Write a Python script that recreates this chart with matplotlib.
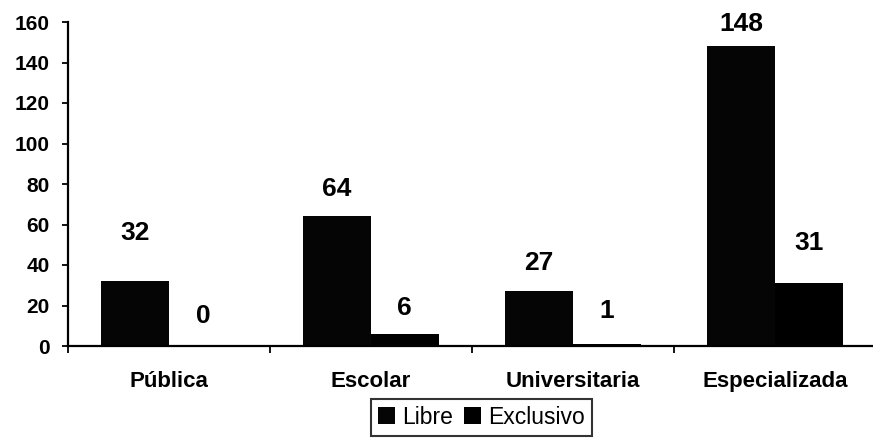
import matplotlib
matplotlib.use("Agg")
import matplotlib.pyplot as plt
import numpy as np

categories = ["Pública", "Escolar", "Universitaria", "Especializada"]
libre = [32, 64, 27, 148]
exclusivo = [0, 6, 1, 31]
yticks = [0, 20, 40, 60, 80, 100, 120, 140, 160]

plt.rcParams['font.family'] = ['Liberation Sans', 'DejaVu Sans']

fig = plt.figure(figsize=(8.73, 4.38), dpi=100)
ax = fig.add_axes([68/873, 1-346/438, (876-68)/873, (346-22)/438])

x = np.arange(len(categories))
w = 0.335
b1 = ax.bar(x - w/2, libre, w, color='#050505', label='Libre')
b2 = ax.bar(x + w/2, exclusivo, w, color='black', label='Exclusivo')

# label offsets in points (as placed in the reference layout)
off1 = [34.6, 19.4, 20.2, 15.8]
off2 = [21.6, 18.7, 23.8, 28.8]
for bars, vals, offs in ((b1, libre, off1), (b2, exclusivo, off2)):
    for rect, v, o in zip(bars, vals, offs):
        ax.annotate(str(v), (rect.get_x() + rect.get_width()/2, v), xytext=(0, o),
                    textcoords='offset points', ha='center', va='center',
                    fontsize=19, fontweight='bold')

ax.set_ylim(0, 160)
ax.set_xlim(-0.5, 3.5)
ax.set_yticks(yticks)
ax.set_yticklabels([str(t) for t in yticks], fontsize=15, fontweight='bold')
ax.tick_params(axis='y', direction='out', length=4, width=1.3, pad=9)

ax.set_xticks(x)
ax.set_xticklabels(categories, fontsize=16, fontweight='bold')
ax.tick_params(axis='x', which='major', length=0, pad=18)
ax.set_xticks(np.arange(-0.5, 4.0, 1.0), minor=True)
ax.tick_params(axis='x', which='minor', direction='out', length=5, width=1.3)

for s in ['top', 'right']:
    ax.spines[s].set_visible(False)
for s in ['left', 'bottom']:
    ax.spines[s].set_linewidth(1.6)

leg = fig.legend(loc='upper center', bbox_to_anchor=(481.5/873, 1-399/438), ncol=2,
                 frameon=True, fancybox=False, edgecolor='black', fontsize=16.5,
                 handlelength=0.75, handleheight=0.75, handletextpad=0.3,
                 columnspacing=0.5, borderpad=0.3, borderaxespad=0)
leg.get_frame().set_linewidth(1.5)

fig.savefig('out.png', dpi=100)
